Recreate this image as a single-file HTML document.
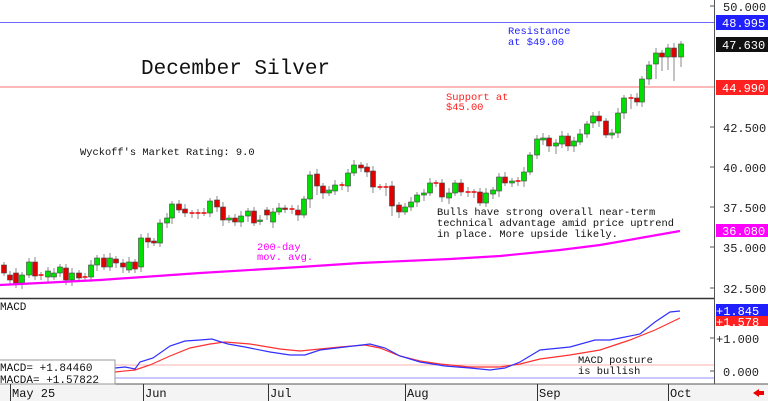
<!DOCTYPE html>
<html><head><meta charset="utf-8"><style>
html,body{margin:0;padding:0;background:#fff}
svg{display:block}
text{font-family:"Liberation Mono",monospace}
</style></head><body>
<svg id="s" width="768" height="401" viewBox="0 0 768 401" xmlns="http://www.w3.org/2000/svg">
<rect x="0" y="0" width="768" height="401" fill="#fff"/>
<rect x="0" y="384" width="768" height="17" fill="#f4f4f4"/>
<line x1="0" y1="22.5" x2="714" y2="22.5" stroke="#6a6aff" stroke-width="1"/>
<line x1="0" y1="87" x2="714" y2="87" stroke="#ff7070" stroke-width="1"/>
<line x1="0" y1="365" x2="714" y2="365" stroke="#ffb0b0" stroke-width="1"/>
<line x1="0" y1="378" x2="714" y2="378" stroke="#c8c8ff" stroke-width="2"/>
<g id="candles"></g>
<polyline fill="none" stroke="#ff00ff" stroke-width="2.2" points="0,285 100,280 200,273 300,267 360,263 450,259 500,256 560,250 600,245 640,238 680,231"/>
<polyline fill="none" stroke="#ff3030" stroke-width="1.2" points="115,372 135,370 150,365 170,356 190,348 210,344 225,342 250,344 280,349 300,351 320,349 340,347 365,345 380,348 400,356 420,361 440,364 470,367 500,367 520,364 540,359 570,355 600,350 630,340 655,330 680,318"/>
<polyline fill="none" stroke="#3030ff" stroke-width="1.2" points="115,368 125,367 135,369 140,362 153,358 170,346 185,341 200,340 212,339 218,341 228,344 245,347 270,352 290,355 305,355 320,350 345,347 370,344 385,348 400,356 420,362 445,366 470,368 490,370 505,368 520,362 540,350 570,347 595,340 610,340 620,338 640,334 655,322 670,312 680,311"/>
<line x1="714.5" y1="0" x2="714.5" y2="384" stroke="#555" stroke-width="1"/>
<line x1="0" y1="298.5" x2="714" y2="298.5" stroke="#333" stroke-width="1.5"/>
<line x1="0" y1="384" x2="768" y2="384" stroke="#555" stroke-width="1"/>
<g stroke="#555" stroke-width="1">
<line x1="710" y1="6" x2="714" y2="6"/><line x1="710" y1="127" x2="714" y2="127"/><line x1="710" y1="167" x2="714" y2="167"/><line x1="710" y1="207" x2="714" y2="207"/><line x1="710" y1="247" x2="714" y2="247"/><line x1="710" y1="288" x2="714" y2="288"/>
<line x1="710" y1="338" x2="714" y2="338"/><line x1="710" y1="371" x2="714" y2="371"/>
</g>
<g font-size="12" fill="#222">
<text x="723" y="11">50.000</text>
<text x="723" y="132">42.500</text>
<text x="723" y="172">40.000</text>
<text x="723" y="212">37.500</text>
<text x="723" y="252">35.000</text>
<text x="723" y="293">32.500</text>
<text x="716" y="343">+1.000</text>
<text x="723" y="376">0.000</text>
</g>
<rect x="716" y="15" width="52" height="15" fill="#2020ff"/>
<text x="722" y="27" font-size="12" fill="#fff">48.995</text>
<rect x="716" y="37" width="52" height="15" fill="#111"/>
<text x="722" y="49" font-size="12" fill="#fff">47.630</text>
<rect x="716" y="80" width="52" height="15" fill="#ff2020"/>
<text x="722" y="92" font-size="12" fill="#fff">44.990</text>
<rect x="716" y="224" width="52" height="13" fill="#ff00ff"/>
<text x="722" y="235" font-size="12" fill="#fff">36.080</text>
<rect x="716" y="316" width="52" height="10" fill="#ff2020"/>
<text x="716" y="326" font-size="12" fill="#fff">+1.578</text>
<rect x="716" y="304" width="52" height="12" fill="#2020ff"/>
<text x="716" y="315" font-size="12" fill="#fff">+1.845</text>
<text x="141" y="74" font-size="21" fill="#111">December Silver</text>
<text x="80" y="155" font-size="10.4" fill="#111">Wyckoff's Market Rating: 9.0</text>
<text x="508" y="34" font-size="10.4" fill="#2020ff">Resistance</text>
<text x="508" y="45" font-size="10.4" fill="#2020ff">at $49.00</text>
<text x="446" y="100" font-size="10.4" fill="#ff2020">Support at</text>
<text x="446" y="110" font-size="10.4" fill="#ff2020">$45.00</text>
<text x="257" y="250" font-size="10.4" fill="#ff00ff">200-day</text>
<text x="257" y="260" font-size="10.4" fill="#ff00ff">mov. avg.</text>
<text x="437" y="215" font-size="10.4" fill="#111">Bulls have strong overall near-term</text>
<text x="437" y="226" font-size="10.4" fill="#111">technical advantage amid price uptrend</text>
<text x="437" y="237" font-size="10.4" fill="#111">in place. More upside likely.</text>
<text x="578" y="363" font-size="10.4" fill="#111">MACD posture</text>
<text x="578" y="374" font-size="10.4" fill="#111">is bullish</text>
<text x="0" y="310" font-size="11" fill="#111">MACD</text>
<rect x="-1" y="360" width="116" height="24" fill="#fff" stroke="#999"/>
<text x="0" y="371" font-size="11" fill="#111">MACD=   +1.84460</text>
<text x="0" y="383" font-size="11" fill="#111">MACDA= +1.57822</text>
<g stroke="#333" stroke-width="1">
<line x1="10.5" y1="384" x2="10.5" y2="401"/><line x1="143.5" y1="384" x2="143.5" y2="401"/><line x1="268.5" y1="384" x2="268.5" y2="401"/><line x1="405.5" y1="384" x2="405.5" y2="401"/><line x1="537.5" y1="384" x2="537.5" y2="401"/><line x1="668.5" y1="384" x2="668.5" y2="401"/>
</g>
<g font-size="12" fill="#111">
<text x="12" y="397">May 25</text><text x="145" y="397">Jun</text><text x="270" y="397">Jul</text><text x="407" y="397">Aug</text><text x="539" y="397">Sep</text><text x="670" y="397">Oct</text>
</g>
<polygon points="753,393 759,389 759,391 764,391 764,395 759,395 759,397" fill="#e00"/>
</svg>
<script>
var d=[[4,265,273,'r'],[10,275,280,'r'],[16,273,283,'r'],[22,275,283,'g'],[29,262,275,'g'],[35,262,276,'r'],[41,275,275,'d'],[48,271,277,'g'],[54,273,277,'g'],[60,267,273,'g'],[66,268,280,'r'],[72,273,280,'g'],[79,273,278,'r'],[85,277,277,'d'],[91,265,277,'g'],[97,258,265,'g'],[104,258,267,'r'],[110,258,267,'g'],[116,259,263,'r'],[123,263,267,'r'],[129,262,270,'g'],[135,262,269,'r'],[141,238,267,'g'],[148,238,242,'r'],[154,241,243,'r'],[160,223,243,'g'],[167,218,223,'g'],[172,204,218,'g'],[179,204,210,'r'],[185,209,213,'r'],[192,213,213,'d'],[198,213,213,'d'],[204,213,213,'d'],[210,201,213,'g'],[217,200,207,'r'],[223,207,220,'r'],[229,218,220,'g'],[235,218,222,'r'],[241,216,222,'g'],[248,211,216,'g'],[254,211,223,'r'],[260,220,221,'g'],[267,210,215,'r'],[273,212,222,'g'],[279,208,212,'g'],[285,208,209,'r'],[292,209,209,'d'],[298,210,215,'r'],[304,199,215,'g'],[310,175,199,'g'],[317,174,186,'r'],[323,186,193,'r'],[329,190,193,'g'],[335,185,191,'g'],[342,185,185,'d'],[348,173,186,'g'],[354,165,173,'g'],[361,165,168,'r'],[367,167,172,'r'],[373,171,187,'r'],[380,187,187,'d'],[386,187,187,'d'],[392,186,206,'r'],[399,205,212,'r'],[405,207,212,'g'],[411,202,207,'g'],[417,195,202,'g'],[424,193,195,'g'],[430,183,193,'g'],[436,183,183,'d'],[442,183,197,'r'],[449,193,198,'g'],[455,183,193,'g'],[461,183,192,'r'],[468,192,192,'d'],[474,192,192,'d'],[480,192,203,'r'],[486,193,203,'g'],[493,190,194,'g'],[499,177,191,'g'],[505,177,183,'r'],[512,181,183,'g'],[518,181,181,'d'],[524,172,181,'g'],[530,155,172,'g'],[537,139,155,'g'],[543,138,140,'g'],[549,138,146,'r'],[556,143,146,'g'],[562,136,144,'g'],[568,136,146,'r'],[574,141,146,'g'],[580,134,142,'g'],[587,124,134,'g'],[593,116,123,'g'],[599,116,121,'r'],[606,121,135,'r'],[612,133,135,'g'],[618,113,133,'g'],[624,98,113,'g'],[631,98,98,'d'],[637,98,102,'r'],[642,79,102,'g'],[649,65,79,'g'],[656,53,64,'g'],[662,53,57,'r'],[668,48,57,'g'],[674,48,57,'r'],[681,44,57,'g']];
var w={49:5,50:4,61:5,62:5,88:5,100:8,104:12,105:10,106:8,107:18,108:7};
var g=document.getElementById('candles'),h='';
d.forEach(function(c,i){var t=Math.min(c[1],c[2]),b=Math.max(c[1],c[2]);var e=w[i]||0;var hi=t-3-(i%3),lo=b+3+(i%4)+e;
h+='<line x1="'+c[0]+'" y1="'+hi+'" x2="'+c[0]+'" y2="'+lo+'" stroke="#888" stroke-width="1"/>';
if(c[3]=='d'){h+='<line x1="'+(c[0]-2.5)+'" y1="'+t+'" x2="'+(c[0]+2.5)+'" y2="'+t+'" stroke="#e00" stroke-width="1.5"/>';}
else{h+='<rect x="'+(c[0]-2.5)+'" y="'+t+'" width="5" height="'+Math.max(b-t,1.5)+'" fill="'+(c[3]=='g'?'#00e000':'#e00000')+'" stroke="#444" stroke-width="0.6"/>';}});
g.innerHTML=h;
</script>
</body></html>
